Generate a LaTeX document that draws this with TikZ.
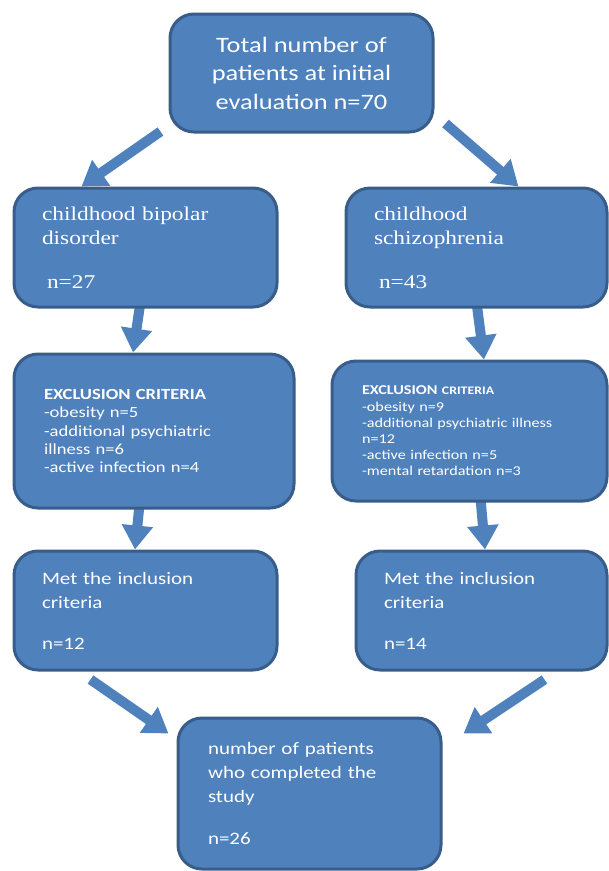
\documentclass[tikz,border=0pt]{standalone}
\usepackage{fontspec}
\usepackage{xcolor}
\usetikzlibrary{arrows.meta,backgrounds,calc}
\setmainfont{Liberation Serif}
\newfontfamily\calib[FakeStretch=1.2]{Carlito}
\newfontfamily\timesw[FakeStretch=1.2]{Liberation Serif}
\definecolor{boxfill}{HTML}{4F81BD}
\definecolor{boxline}{HTML}{385D8A}

\begin{document}
\begin{tikzpicture}[x=1pt, y=-1pt,
    box/.style={rectangle, rounded corners=24pt, draw=boxline, line width=3pt, fill=boxfill, text=white, align=left, inner sep=0pt},
    flow/.style={draw=boxfill, line width=10pt, -{Triangle[width=30pt,length=24pt]}}]
    \useasboundingbox (0,0) rectangle (609,871);

    \node[box, minimum width=263pt, minimum height=118pt, align=center, font=\calib\fontsize{22}{28.5}\selectfont] (total) at (301.5,73) {Total number of\\patients at initial\\evaluation n=70};

    \node[box, minimum width=263pt, minimum height=119pt, text width=207pt, font=\timesw\fontsize{19.5}{24}\selectfont] (bipolar) at (145.5,247.5) {childhood bipolar\\disorder\\[20pt]\hspace*{5pt}n=27};
    \node[box, minimum width=261pt, minimum height=119pt, text width=205pt, font=\timesw\fontsize{19.5}{24}\selectfont] (schizo) at (476.5,247.5) {childhood\\schizophrenia\\[20pt]\hspace*{5pt}n=43};

    \node[box, minimum width=280pt, minimum height=154pt, text width=220pt, font=\calib\fontsize{15.5}{18.3}\selectfont] (exbipolar) at (154,431) {\textbf{EXCLUSION CRITERIA}\\-obesity n=5\\-additional psychiatric\\illness n=6\\-active infection n=4};
    \node[box, minimum width=275pt, minimum height=140pt, text width=215pt, font=\calib\fontsize{13.5}{16.2}\selectfont] (exschizo) at (469.5,431) {\textbf{EXCLUSION {\fontsize{11.5}{16.2}\selectfont CRITERIA}}\\-obesity n=9\\-additional psychiatric illness\\n=12\\-active infection n=5\\-mental retardation n=3};

    \node[box, minimum width=263pt, minimum height=119pt, text width=207pt, font=\calib\fontsize{17.5}{24}\selectfont] (metbipolar) at (145.5,610.5) {Met the inclusion\\criteria\\[17pt]n=12};
    \node[box, minimum width=251pt, minimum height=119pt, text width=195pt, font=\calib\fontsize{17.5}{24}\selectfont] (metschizo) at (481.5,610.5) {Met the inclusion\\criteria\\[17pt]n=14};

    \node[box, minimum width=263pt, minimum height=151pt, text width=203pt, font=\calib\fontsize{17.5}{24}\selectfont] (final) at (309.5,793.5) {number of patients\\who completed the\\study\\[18pt]n=26};

    \begin{scope}[on background layer]
    \draw[flow] ([shift={(-8,-2)}]total.south west) -- ([shift={(69,0)}]bipolar.north west);
    \draw[flow] ([shift={(11,-10)}]total.south east) -- ([shift={(174,0)}]schizo.north west);
    \draw[flow] ([shift={(-4.5,-10)}]bipolar.south) -- ([shift={(-21,0)}]exbipolar.north);
    \draw[flow] ([shift={(-0.5,-10)}]schizo.south) -- ([shift={(14.5,0)}]exschizo.north);
    \draw[flow] ([shift={(-14,-10)}]exbipolar.south) -- ([shift={(-10.5,0)}]metbipolar.north);
    \draw[flow] ([shift={(10.5,-10)}]exschizo.south) -- ([shift={(3.5,0)}]metschizo.north);
    \draw[flow] ([shift={(78,8)}]metbipolar.south west) -- ([shift={(-8,17)}]final.north west);
    \draw[flow] ([shift={(-64,8)}]metschizo.south east) -- ([shift={(21,17)}]final.north east);
    \end{scope}
\end{tikzpicture}
\end{document}
